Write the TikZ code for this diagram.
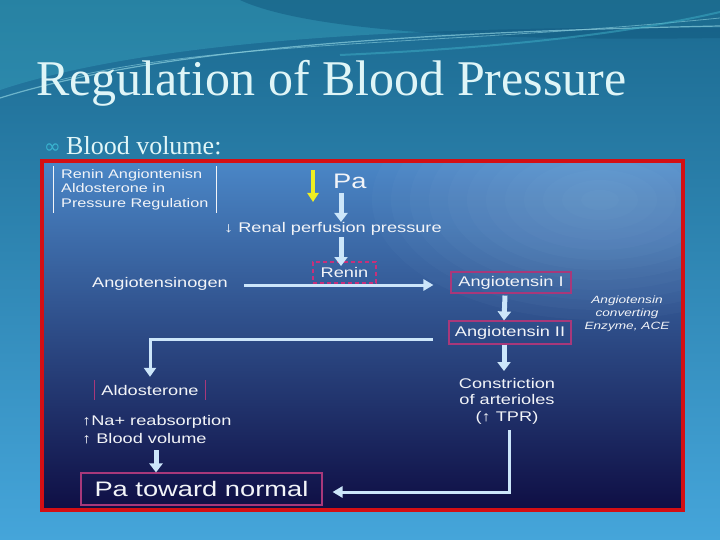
\documentclass[tikz,border=0pt]{standalone}
\usepackage{fontspec}
\setmainfont{Liberation Serif}
\newfontfamily\dfont[FakeStretch=1.3]{Liberation Sans}
\newfontfamily\symfont{DejaVu Sans}
\usetikzlibrary{arrows.meta}
\definecolor{slideTop}{HTML}{1B6A90}
\definecolor{slideMid}{HTML}{2C78AE}
\definecolor{slideBot}{HTML}{45A5DA}
\definecolor{waveLight}{HTML}{3FB0C8}
\definecolor{waveDark}{HTML}{135A80}
\definecolor{imgTop}{HTML}{4A86C6}
\definecolor{imgMid}{HTML}{27468E}
\definecolor{imgBot}{HTML}{0F0F45}
\definecolor{glow}{HTML}{A8D0F0}
\definecolor{redframe}{HTML}{D40F14}
\definecolor{titlec}{HTML}{DFF5F7}
\definecolor{bulletc}{HTML}{3AB4D0}
\definecolor{textc}{HTML}{F2F4F8}
\definecolor{arrowc}{HTML}{CCE6FA}
\definecolor{boxc}{HTML}{A8387A}
\definecolor{reninc}{HTML}{C8307A}
\definecolor{yellowc}{HTML}{EEEE22}
\tikzset{
  dtext/.style={text=textc, inner sep=0pt},
  boxnode/.style={draw=boxc, line width=1.1pt, text=textc, inner sep=0pt, font=\dfont\fontsize{14}{16}\selectfont},
  barrow/.style={draw=arrowc, line width=5pt, -{Triangle[width=13pt,length=9pt]}},
  tarrow/.style={draw=arrowc, line width=3pt, -{Triangle[width=11pt,length=10pt]}},
  yarrow/.style={draw=yellowc, line width=4pt, -{Triangle[width=11pt,length=9pt]}},
}
\begin{document}
\begin{tikzpicture}[x=1pt,y=-1pt]
\useasboundingbox (0,0) rectangle (720,540);
% slide background
\shade[top color=slideTop, middle color=slideMid, bottom color=slideBot] (0,0) rectangle (720,540);
\fill[waveLight, opacity=0.35] (0,0) -- (0,90) .. controls (150,40) and (420,25) .. (720,28) -- (720,0) -- cycle;
\fill[waveDark, opacity=0.55] (240,0) .. controls (300,28) and (460,42) .. (720,38) -- (720,0) -- cycle;
\draw[waveLight!60!white, line width=1.2pt, opacity=0.7] (0,98) .. controls (160,48) and (420,32) .. (720,26);
\draw[waveLight!60!white, line width=0.8pt, opacity=0.6] (60,80) .. controls (220,40) and (450,45) .. (720,18);
\draw[waveLight, line width=2pt, opacity=0.5] (340,55) .. controls (450,50) and (600,40) .. (720,12);
% title and bullet
\node[anchor=base west, inner sep=0, text=titlec, font=\fontsize{50}{52}\selectfont] (title) at (36,96) {Regulation of Blood Pressure};
\node[anchor=base west, inner sep=0, text=bulletc, font=\symfont\fontsize{20}{22}\selectfont] (bul) at (44,154) {∞};
\node[anchor=base west, inner sep=0, text=titlec!95!white, font=\fontsize{26}{28}\selectfont] (bv) at (66,155) {Blood volume:};
% image panel
\shade[top color=imgTop, middle color=imgMid, bottom color=imgBot] (44,163) rectangle (681,508);
\begin{scope}
  \clip (44,163) rectangle (681,508);
  \foreach \r in {1,...,12}{
    \fill[glow, opacity=0.035] (600,200) ellipse ({19*\r} and {10*\r});
  }
\end{scope}
\draw[redframe, line width=4pt] (42,161) rectangle (683,510);
% legend
\node[anchor=north west, align=left, dtext, font=\dfont\fontsize{12.5}{14.6}\selectfont] (legend) at (61,169) {Renin Angiontenisn\\Aldosterone in\\Pressure Regulation};
\draw[textc, line width=0.8pt] (53,166) -- (53,213);
\draw[textc, line width=0.8pt] (216,166) -- (216,213);
% main chain
\coordinate (ytop) at (313,170);
\coordinate (ybot) at (313,202);
\draw[yarrow] (ytop) -- (ybot);
\node[anchor=base west, dtext, font=\dfont\fontsize{21}{24}\selectfont] (pa) at (333,189) {Pa};
\node[anchor=base west, dtext, font=\dfont\fontsize{14}{16}\selectfont] (renal) at (224,233) {↓ Renal perfusion pressure};
\node[draw=reninc, line width=1.5pt, dash pattern=on 4pt off 3pt, minimum width=63pt, minimum height=21pt, inner sep=0, text=textc, font=\dfont\fontsize{14}{16}\selectfont] (renin) at (344.5,272.5) {Renin};
\coordinate (pa1) at (341,193);
\coordinate (pa2) at (341,222);
\draw[barrow] (pa1) -- (pa2);
\coordinate (re1) at (341,237);
\coordinate (re2) at (341,266);
\draw[barrow] (re1) -- (re2);
\node[anchor=base west, dtext, font=\dfont\fontsize{14}{16}\selectfont] (agen) at (92,287) {Angiotensinogen};
\node[boxnode, minimum width=120pt, minimum height=21pt] (a1) at (511,282.5) {Angiotensin I};
\coordinate (l1) at (244,285);
\draw[tarrow] (l1) -- ([xshift=-17pt]a1.west |- l1);
\node[boxnode, minimum width=122pt, minimum height=23pt] (a2) at (510,332.5) {Angiotensin II};
\draw[barrow] ([xshift=-6pt]a1.south) ++(0,2) -- ([xshift=-6pt]a2.north);
\node[align=center, dtext, font=\dfont\itshape\fontsize{10.5}{13.2}\selectfont] (ace) at (627,314) {Angiotensin\\converting\\Enzyme, ACE};
% aldosterone branch
\node[minimum width=110pt, minimum height=20pt, inner sep=0, text=textc, font=\dfont\fontsize{14}{16}\selectfont] (ald) at (150,390) {Aldosterone};
\draw[boxc, line width=1pt] (ald.north west) -- (ald.south west);
\draw[boxc, line width=1pt] (ald.north east) -- (ald.south east);
\coordinate (c1) at (433,339);
\draw[draw=arrowc, line width=3pt, -{Triangle[width=12pt,length=9pt]}] (c1) -| ([yshift=3pt]ald.north);
\node[anchor=base west, dtext, font=\dfont\fontsize{14}{16}\selectfont] (na) at (82,425) {↑Na+ reabsorption};
\node[anchor=base west, dtext, font=\dfont\fontsize{14}{16}\selectfont] (blv) at (82,443) {↑ Blood volume};
\node[boxnode, minimum width=241pt, minimum height=32pt, font=\dfont\fontsize{21}{24}\selectfont] (pan) at (201.5,489) {Pa toward normal};
\coordinate (b1) at (156,450);
\draw[barrow] (b1) -- (b1 |- pan.north);
% constriction branch
\node[align=center, dtext, font=\dfont\fontsize{14}{16.5}\selectfont] (con) at (507,401) {Constriction\\of arterioles\\(↑ TPR)};
\coordinate (cn) at (504,371);
\draw[barrow] ([xshift=-6pt]a2.south) -- (cn);
\coordinate (c2) at (509,430);
\draw[draw=arrowc, line width=3pt, -{Triangle[width=11pt,length=10pt]}] (c2) |- ([xshift=10pt,yshift=-3pt]pan.east);
\end{tikzpicture}
\end{document}
